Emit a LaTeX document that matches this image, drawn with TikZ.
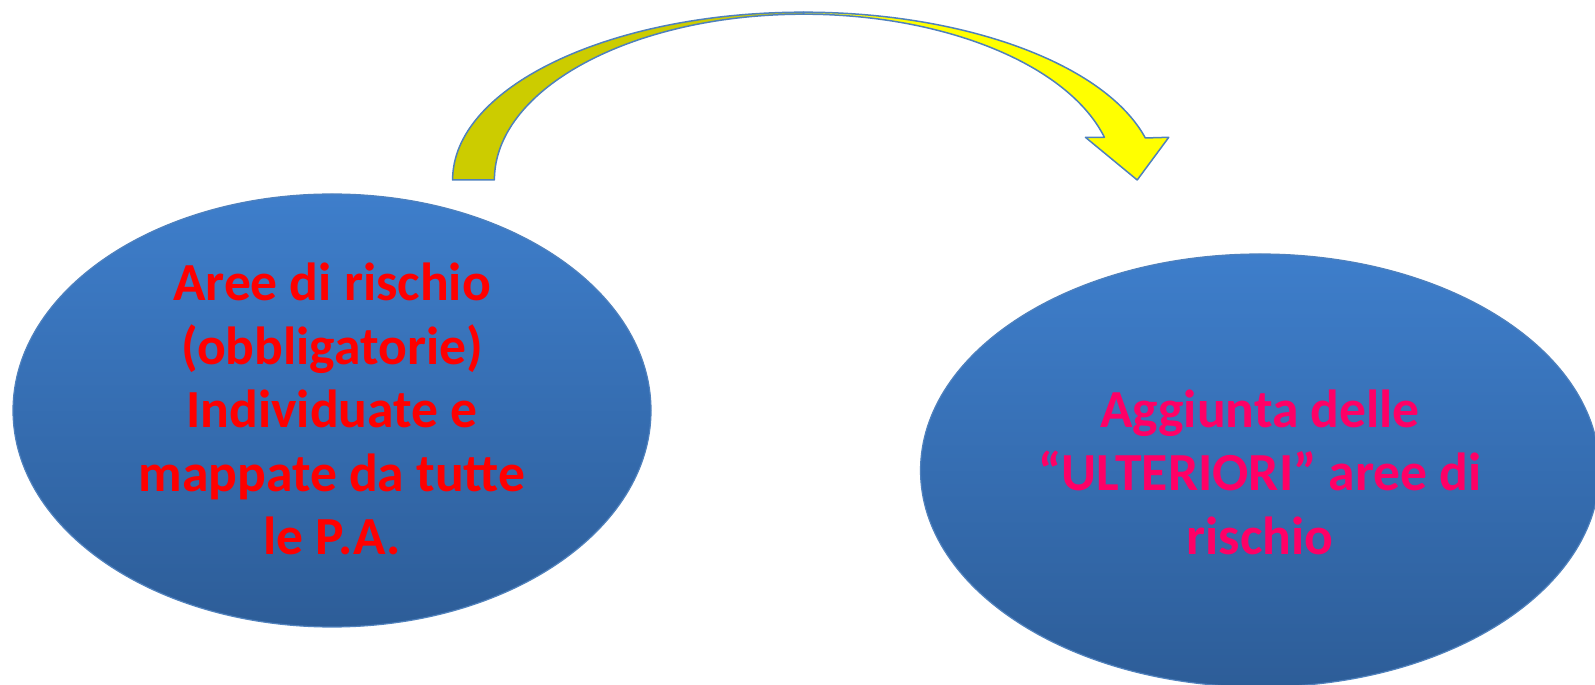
\documentclass[tikz,border=0pt]{standalone}
\usepackage{fontspec}
\setmainfont{Carlito}
\usetikzlibrary{shapes.geometric}
\definecolor{blobtop}{RGB}{62,126,203}
\definecolor{blobbottom}{RGB}{45,93,152}
\definecolor{blobline}{RGB}{79,129,189}
\definecolor{arrowback}{RGB}{204,204,0}
\definecolor{arrowfront}{RGB}{255,255,0}
\definecolor{pinkred}{RGB}{255,0,102}
\begin{document}
\begin{tikzpicture}[x=1pt,y=1pt,
    area/.style={draw=blobline, line width=1.2pt, top color=blobtop, bottom color=blobbottom},
    areatext/.style={align=center, font=\bfseries\fontsize{53.6}{63.5}\selectfont},
    band/.style={draw=blobline, line width=1.5pt, line join=round}]
    \useasboundingbox (0,0) rectangle (1595,685);
    \clip (0,0) rectangle (1595,685);
    % the two areas
    \path[area] (332,274.5) ellipse [x radius=319pt, y radius=216.5pt];
    \path[area] (1260,214.5) ellipse [x radius=339.5pt, y radius=216.5pt];
    \node[areatext, text=red] (obbligatorie) at (332,276)
        {Aree di rischio\\(obbligatorie)\\Individuate e\\mappate da tutte\\le P.A.};
    \node[areatext, text=pinkred] (ulteriori) at (1260,213)
        {Aggiunta delle\\“ULTERIORI” aree di\\rischio};
    % curved arrow
    \path[band, fill=arrowback] (452.6,505)
        arc[start angle=180, end angle=90, x radius=351pt, y radius=167.8pt]
        -- (803.6,670.8)
        arc[start angle=90, end angle=180, x radius=309.2pt, y radius=165.8pt]
        -- cycle;
    \path[band, fill=arrowfront] (803.6,672.8)
        arc[start angle=90, end angle=14.5, x radius=353pt, y radius=167.8pt]
        -- (1168.8,547.7) -- (1137.2,505) -- (1085.4,547.7)
        -- (1104.4,547.7)
        arc[start angle=14.92, end angle=90, x radius=311.3pt, y radius=165.8pt]
        -- cycle;
\end{tikzpicture}
\end{document}
